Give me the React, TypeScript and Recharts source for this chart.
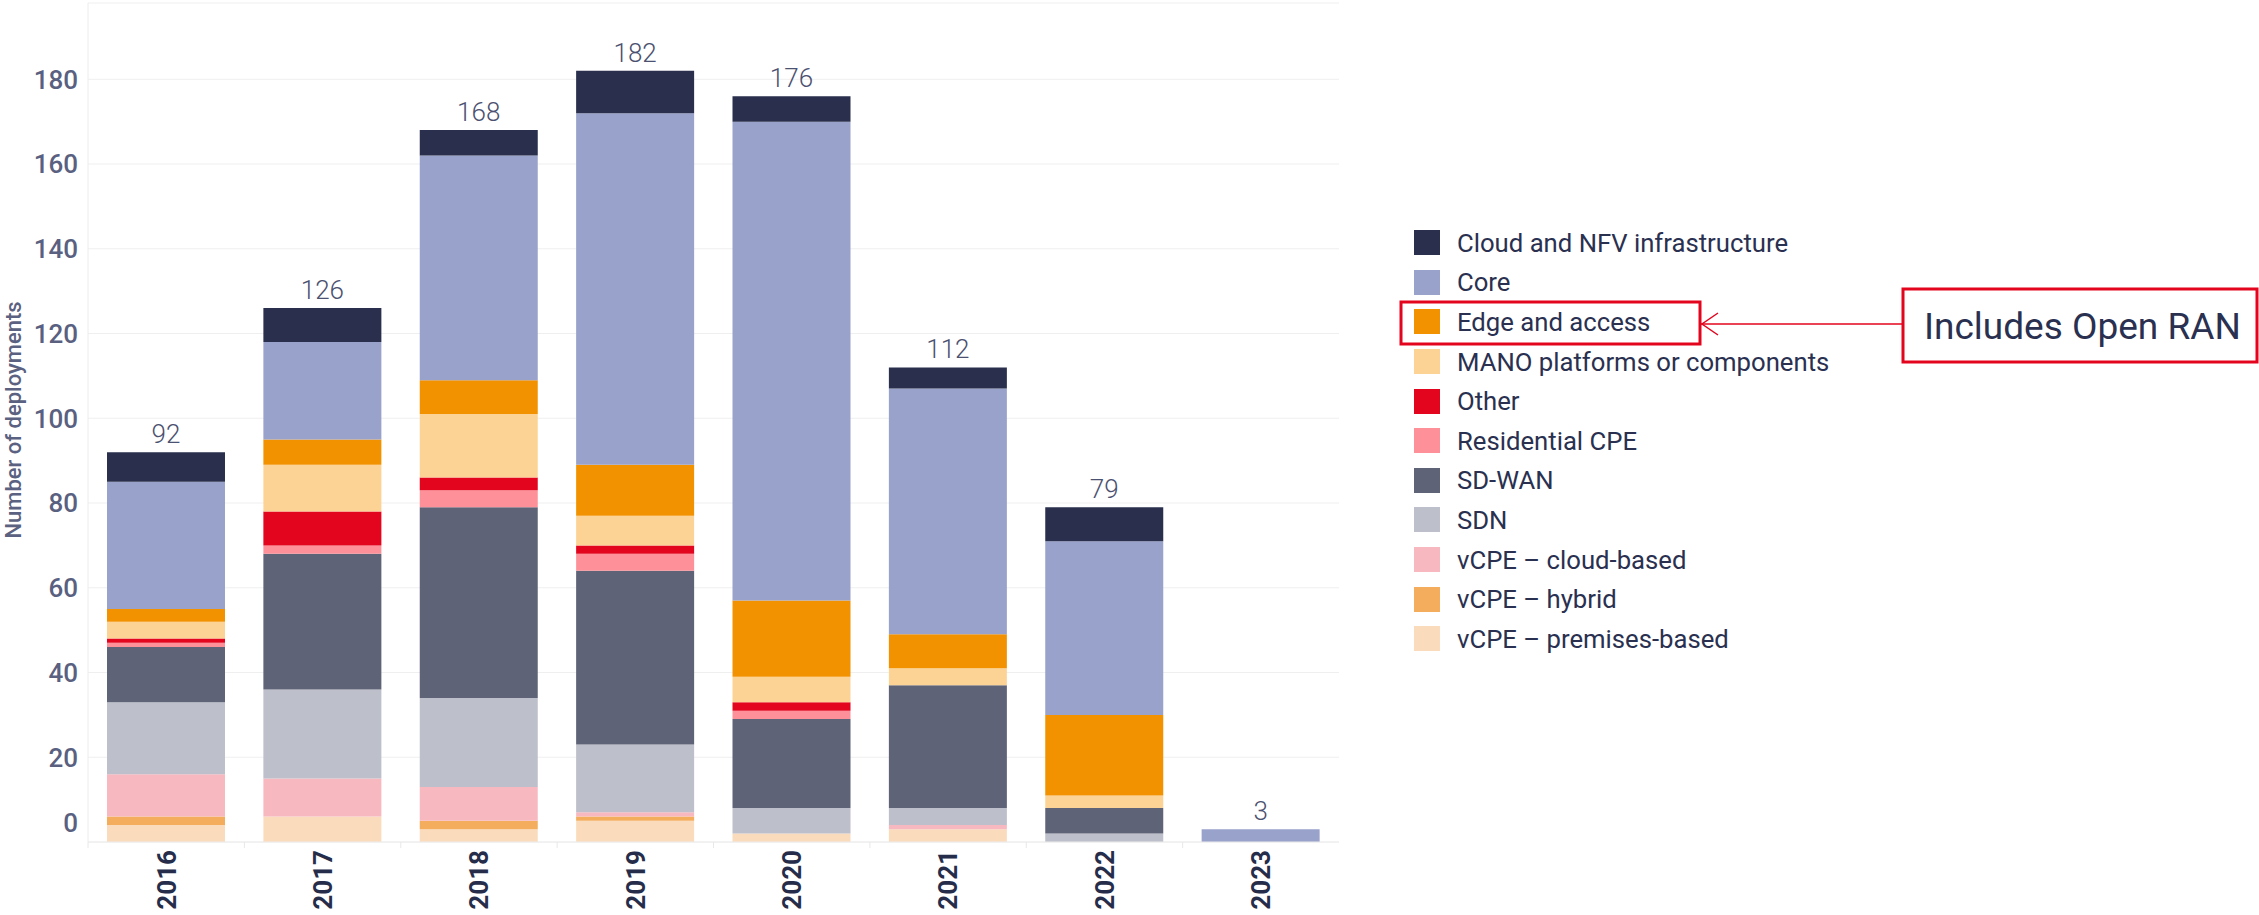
import React from 'react';
import { BarChart, Bar, XAxis, YAxis, CartesianGrid, LabelList } from 'recharts';

const years = ['2016', '2017', '2018', '2019', '2020', '2021', '2022', '2023'];
const totals = [92, 126, 168, 182, 176, 112, 79, 3];

// stack order: bottom -> top
const vcpePremises = [4, 6, 3, 5, 2, 3, 0, 0];
const vcpeHybrid = [2, 0, 2, 1, 0, 0, 0, 0];
const vcpeCloud = [10, 9, 8, 1, 0, 1, 0, 0];
const sdn = [17, 21, 21, 16, 6, 4, 2, 0];
const sdwan = [13, 32, 45, 41, 21, 29, 6, 0];
const residential = [1, 2, 4, 4, 2, 0, 0, 0];
const other = [1, 8, 3, 2, 2, 0, 0, 0];
const mano = [4, 11, 15, 7, 6, 4, 3, 0];
const edge = [3, 6, 8, 12, 18, 8, 19, 0];
const core = [30, 23, 53, 83, 113, 58, 41, 3];
const cloudNfv = [7, 8, 6, 10, 6, 5, 8, 0];

const yTicks = [0, 20, 40, 60, 80, 100, 120, 140, 160, 180];

const series = [
  { key: 'vcpePremises', name: 'vCPE – premises-based', color: '#fadcbd', values: vcpePremises },
  { key: 'vcpeHybrid', name: 'vCPE – hybrid', color: '#f3ad5c', values: vcpeHybrid },
  { key: 'vcpeCloud', name: 'vCPE – cloud-based', color: '#f8b8c0', values: vcpeCloud },
  { key: 'sdn', name: 'SDN', color: '#bdbfca', values: sdn },
  { key: 'sdwan', name: 'SD-WAN', color: '#5e6377', values: sdwan },
  { key: 'residential', name: 'Residential CPE', color: '#fe9099', values: residential },
  { key: 'other', name: 'Other', color: '#e3051d', values: other },
  { key: 'mano', name: 'MANO platforms or components', color: '#fdd395', values: mano },
  { key: 'edge', name: 'Edge and access', color: '#f39200', values: edge },
  { key: 'core', name: 'Core', color: '#99a2cb', values: core },
  { key: 'cloudNfv', name: 'Cloud and NFV infrastructure', color: '#292f4c', values: cloudNfv },
];

const rows = years.map((y, i) => {
  const r: any = { year: y, total: totals[i] };
  series.forEach((s) => {
    r[s.key] = s.values[i];
  });
  return r;
});

const W = 2259;
const H = 915;
const M_TOP = 3;
const X_H = 73;
const Y_W = 88;
const M_RIGHT = 920;
const PLOT_W = W - M_RIGHT - Y_W;
const BASE_Y = H - X_H;
const BAND = PLOT_W / years.length;
const FONT = 'Roboto, sans-serif';

const XTick = (props: any) => {
  const { x, payload } = props;
  const lx = x - BAND / 2;
  const ty = BASE_Y + 8;
  return (
    <g>
      <line x1={lx} x2={lx} y1={BASE_Y} y2={BASE_Y + 6} stroke="#e8e8e8" strokeWidth={1} />
      <text
        x={x}
        y={ty}
        transform={`rotate(-90 ${x} ${ty})`}
        textAnchor="end"
        dy="0.36em"
        fontFamily={FONT}
        fontSize={26}
        fontWeight={700}
        fill="#262d4a"
      >
        {payload.value}
      </text>
    </g>
  );
};

const YTick = (props: any) => {
  const { y, payload } = props;
  const yy = payload.value === 0 ? y - 19 : y;
  return (
    <text
      x={Y_W - 10}
      y={yy}
      textAnchor="end"
      dy="0.36em"
      fontFamily={FONT}
      fontSize={26}
      fontWeight={500}
      fill="#596080"
    >
      {payload.value}
    </text>
  );
};

// label drawn on the top-most non-empty segment of each stack
const makeTotalLabel = (isTopSeries: boolean) => (props: any) => {
  const { x, y, width, value, index } = props;
  const topHasValue = cloudNfv[index] > 0;
  if (isTopSeries !== topHasValue) return null;
  return (
    <text
      x={x + width / 2}
      y={y - 9}
      textAnchor="middle"
      fontFamily={FONT}
      fontSize={26}
      fontWeight={300}
      fill="#4b5170"
    >
      {value}
    </text>
  );
};

const legendItems = [...series].reverse();

export default function App() {
  return (
    <div style={{ position: 'absolute', left: 0, top: 0, width: W, height: H, background: '#fff', fontFamily: FONT }}>
      <BarChart
        width={W}
        height={H}
        data={rows}
        margin={{ top: M_TOP, right: M_RIGHT, bottom: 0, left: 0 }}
      >
        <CartesianGrid vertical={false} stroke="#efefef" />
        <XAxis
          dataKey="year"
          height={X_H}
          axisLine={{ stroke: '#ececec' }}
          tickLine={false}
          tick={<XTick />}
          interval={0}
        />
        <YAxis
          width={Y_W}
          domain={[0, 198]}
          ticks={yTicks}
          axisLine={{ stroke: '#ececec' }}
          tickLine={false}
          tick={<YTick />}
          allowDataOverflow
        />
        {series.map((s) => (
          <Bar
            key={s.key}
            dataKey={s.key}
            name={s.name}
            stackId="a"
            fill={s.color}
            barSize={118}
            isAnimationActive={false}
          >
            {s.key === 'cloudNfv' ? (
              <LabelList dataKey="total" content={makeTotalLabel(true)} />
            ) : null}
            {s.key === 'core' ? (
              <LabelList dataKey="total" content={makeTotalLabel(false)} />
            ) : null}
          </Bar>
        ))}
      </BarChart>

      <svg
        width={W}
        height={H}
        style={{ position: 'absolute', left: 0, top: 0, pointerEvents: 'none' }}
      >
        <text
          x={13}
          y={420}
          transform="rotate(-90 13 420)"
          textAnchor="middle"
          dy="0.36em"
          fontFamily={FONT}
          fontSize={22}
          fontWeight={500}
          fill="#5b6180"
        >
          Number of deployments
        </text>
        <rect x={1401} y={302} width={299} height={42} fill="none" stroke="#e3051d" strokeWidth={3} />
        <line x1={1701} y1={324} x2={1903} y2={324} stroke="#e3051d" strokeWidth={1.5} />
        <polyline points="1718,313 1702,324 1718,335" fill="none" stroke="#e3051d" strokeWidth={1.5} />
        <rect x={1903} y={289} width={354} height={73} fill="none" stroke="#e3051d" strokeWidth={3} />
        <text
          x={1924}
          y={326}
          dy="0.36em"
          fontFamily={FONT}
          fontSize={37}
          fill="#2a3050"
        >
          Includes Open RAN
        </text>
      </svg>

      <div style={{ position: 'absolute', left: 1414, top: 223 }}>
        {legendItems.map((s) => (
          <div key={s.key} style={{ display: 'flex', alignItems: 'center', height: 39.6 }}>
            <div style={{ width: 26, height: 25, background: s.color, marginRight: 17 }} />
            <span style={{ fontFamily: FONT, fontSize: 25.7, color: '#2a3050', whiteSpace: 'nowrap', lineHeight: '30px' }}>
              {s.name}
            </span>
          </div>
        ))}
      </div>
    </div>
  );
}
